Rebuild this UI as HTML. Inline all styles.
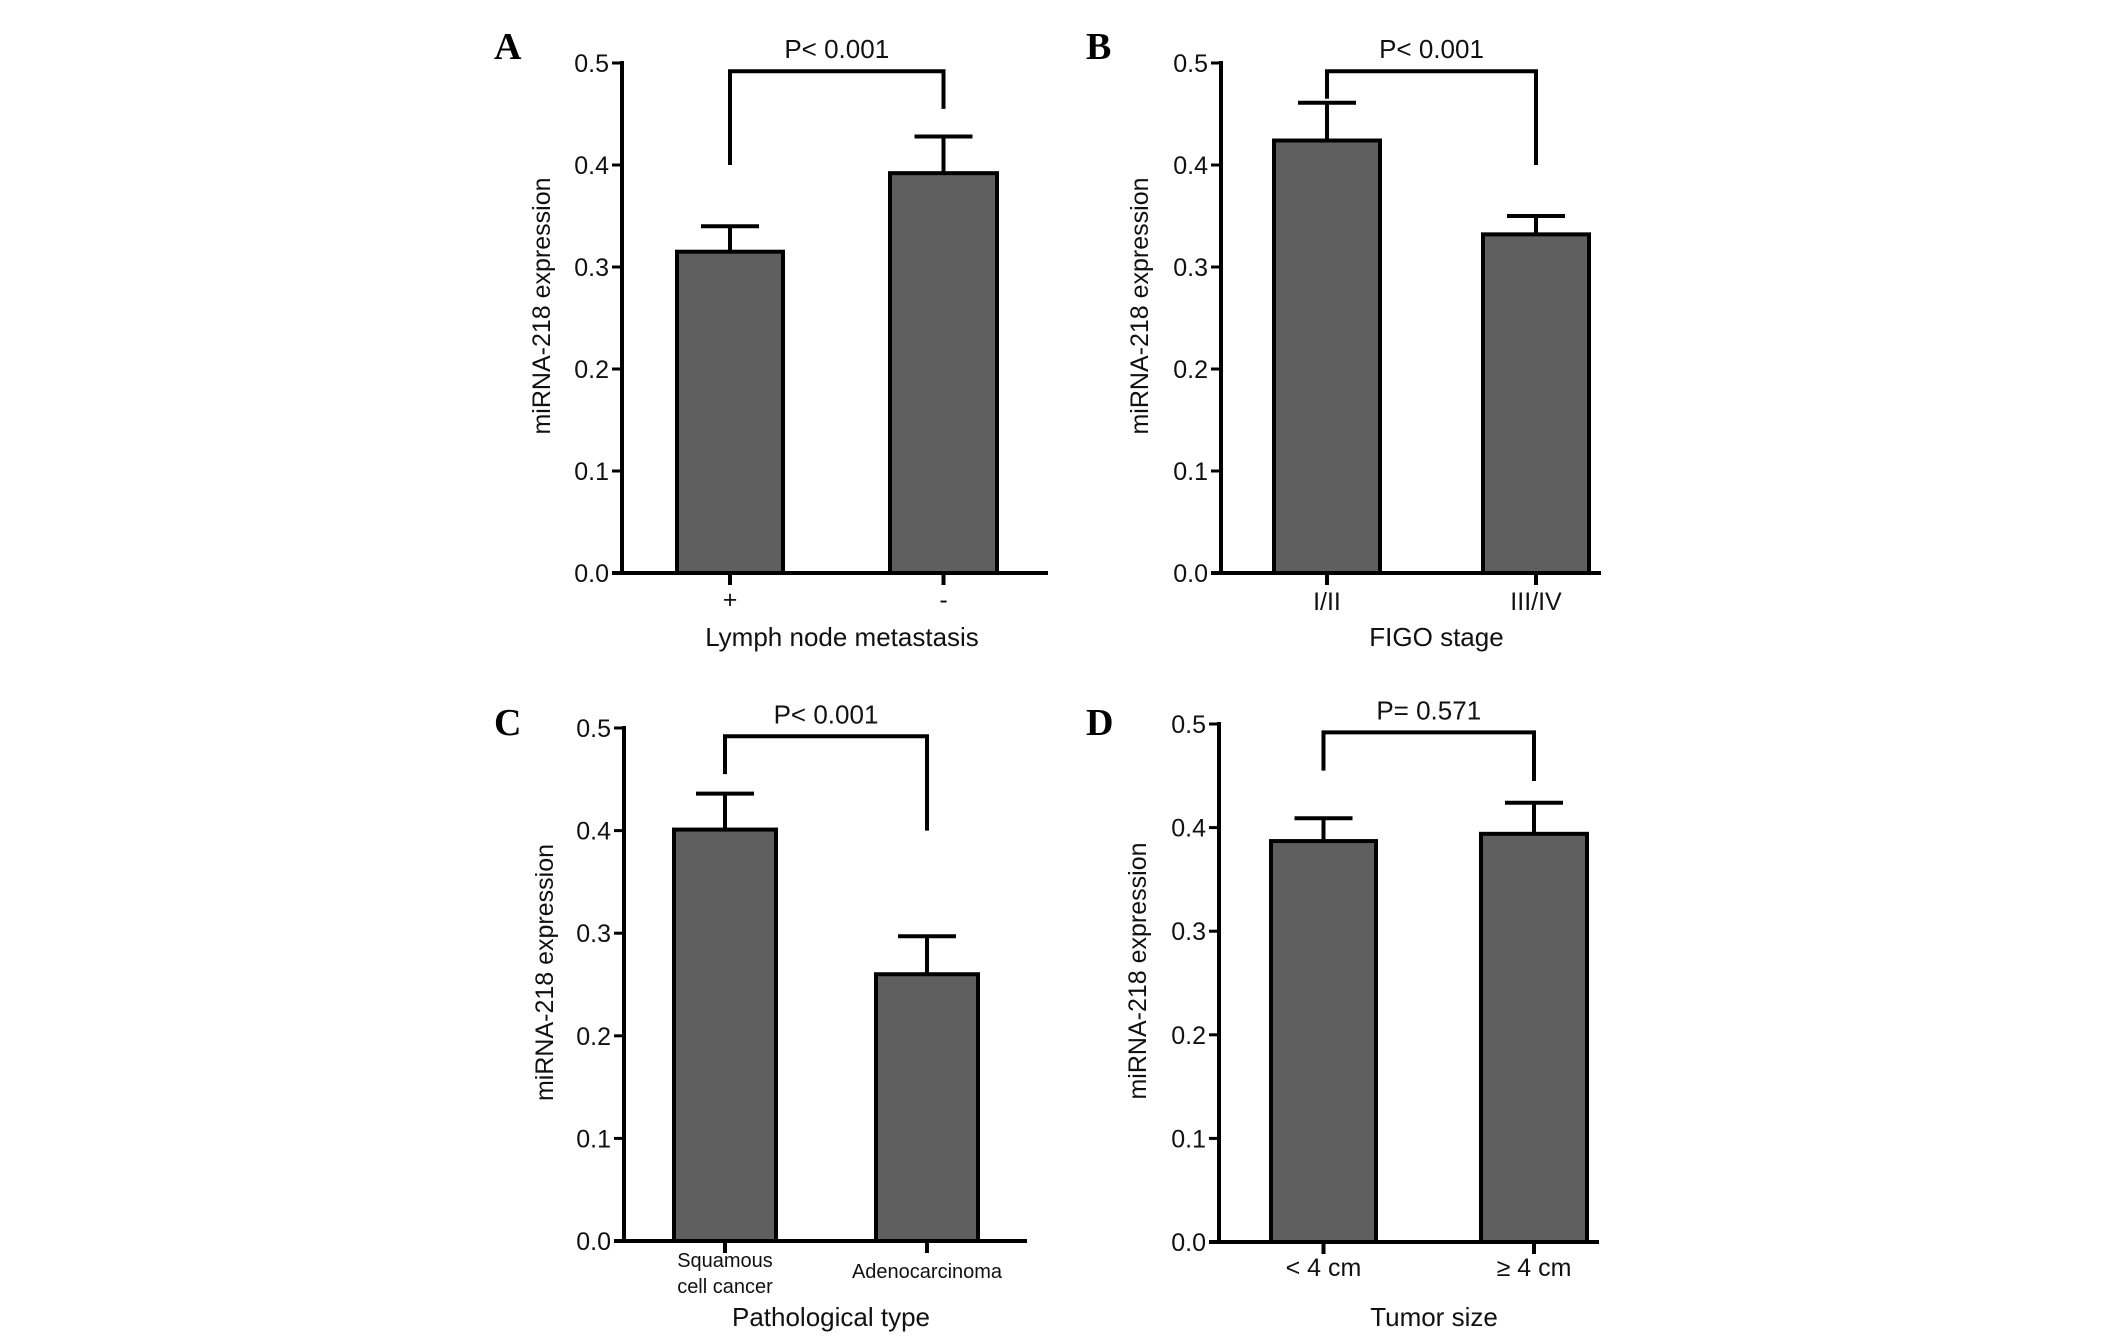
<!DOCTYPE html>
<html><head><meta charset="utf-8"><style>
html,body{margin:0;padding:0;background:#fff;}
svg{display:block;}
text{font-family:"Liberation Sans",Arial,sans-serif;fill:#111;}
text.letter{font-family:"Liberation Serif","Times New Roman",serif;font-weight:bold;fill:#000;}
</style></head><body>
<svg id="fig" width="2126" height="1336" viewBox="0 0 2126 1336" xmlns="http://www.w3.org/2000/svg"></svg>
<script>
// Data
const panelLetters = ["A","B","C","D"];
const categoriesA = ["+","-"];
const categoriesB = ["I/II","III/IV"];
const categoriesC = [["Squamous","cell cancer"],["Adenocarcinoma"]];
const categoriesD = ["< 4 cm","\u2265 4 cm"];
const meansA = [0.315, 0.392];
const errA = [0.340, 0.428];
const meansB = [0.424, 0.332];
const errB = [0.461, 0.350];
const meansC = [0.401, 0.260];
const errC = [0.436, 0.297];
const meansD = [0.387, 0.394];
const errD = [0.409, 0.424];
const pTexts = ["P< 0.001","P< 0.001","P< 0.001","P= 0.571"];
const bracketEnds = [[0.40,0.455],[0.465,0.40],[0.455,0.40],[0.455,0.445]];
const bracketTop = [0.49,0.49,0.49,0.49];
const xTitles = ["Lymph node metastasis","FIGO stage","Pathological type","Tumor size"];
const yTicks = [0,0.1,0.2,0.3,0.4,0.5];
const tickLabels = ["0.0","0.1","0.2","0.3","0.4","0.5"];

const svg = document.getElementById('fig');
const NS = "http://www.w3.org/2000/svg";
function mk(tag, attrs, parent){
  const e = document.createElementNS(NS, tag);
  for (const k in attrs) e.setAttribute(k, attrs[k]);
  (parent||svg).appendChild(e);
  return e;
}
const layouts = [
  {ax:622, y0:573, y5:63, xEnd:1048, bars:[[677,783],[890,997]], lx:494, ly:59, ylx:542, tickY:608, titleY:646},
  {ax:1221, y0:573, y5:63, xEnd:1601, bars:[[1274,1380],[1483,1589]], lx:1086, ly:59, ylx:1140, tickY:610, titleY:646},
  {ax:624, y0:1241, y5:728, xEnd:1027, bars:[[674,776],[876,978]], lx:494, ly:735, ylx:545, tickY:1278, titleY:1326},
  {ax:1219, y0:1242, y5:724, xEnd:1599, bars:[[1271,1376],[1481,1587]], lx:1086, ly:735, ylx:1138, tickY:1276, titleY:1326}
];
const allCats = [categoriesA, categoriesB, categoriesC, categoriesD];
const allMeans = [meansA, meansB, meansC, meansD];
const allErr = [errA, errB, errC, errD];

layouts.forEach((L, p) => {
  const g = mk('g', {});
  
  
  const yS = v => L.y0 - (L.y0 - L.y5) * (v / 0.5);
  const lt = mk('text', {x:L.lx, y:L.ly, 'class':'letter', 'font-size':38}, g);
  lt.textContent = panelLetters[p];
  
  
  L.bars.forEach((b, i) => {
    const cx = (b[0] + b[1]) / 2;
    const ey = yS(allErr[p][i]);
    const top = yS(allMeans[p][i]);
    const eb = mk('path', {d:`M${cx},${top} V${ey} M${cx-29},${ey} H${cx+29}`, stroke:'#000', 'stroke-width':4, fill:'none'}, g);
    
    
    const r = mk('rect', {x:b[0], y:top, width:b[1]-b[0], height:L.y0-top, fill:'#5f5f5f', stroke:'#000', 'stroke-width':4}, g);
    
    
    const xt = mk('line', {x1:cx, x2:cx, y1:L.y0, y2:L.y0+12, stroke:'#000', 'stroke-width':4}, g);
    
    
    const cat = allCats[p][i];
    if (Array.isArray(cat)) {
      const base = cat.length > 1 ? L.tickY - 11 : L.tickY;
      cat.forEach((s, k) => {
        const t = mk('text', {x:cx, y:base + k*26, 'text-anchor':'middle', 'font-size':20}, g);
        t.textContent = s;
        
        
      });
    } else {
      const t = mk('text', {x:cx, y:L.tickY, 'text-anchor':'middle', 'font-size':25}, g);
      t.textContent = cat;
      
      
    }
  });
  const ya = mk('line', {x1:L.ax, x2:L.ax, y1:L.y5-2, y2:L.y0+2, stroke:'#000', 'stroke-width':4}, g);
  
  
  const xa = mk('line', {x1:L.ax-10, x2:L.xEnd, y1:L.y0, y2:L.y0, stroke:'#000', 'stroke-width':4}, g);
  
  
  yTicks.forEach((v, i) => {
    const y = yS(v);
    const tk = mk('line', {x1:L.ax-10, x2:L.ax, y1:y, y2:y, stroke:'#000', 'stroke-width':3}, g);
    
    
    const t = mk('text', {x:L.ax-13, y:y+9, 'text-anchor':'end', 'font-size':25}, g);
    t.textContent = tickLabels[i];
    
    
  });
  const cy = (L.y0 + L.y5) / 2 - 12;
  const yt = mk('text', {x:L.ylx, y:cy, 'text-anchor':'middle', 'font-size':25, transform:`rotate(-90 ${L.ylx} ${cy}) translate(0 8)`}, g);
  yt.textContent = 'miRNA-218 expression';
  
  
  const xcx = (L.bars[0][0] + L.bars[1][1]) / 2 + 5;
  const xt = mk('text', {x:xcx, y:L.titleY, 'text-anchor':'middle', 'font-size':26}, g);
  xt.textContent = xTitles[p];
  
  
  const c1 = (L.bars[0][0] + L.bars[0][1]) / 2, c2 = (L.bars[1][0] + L.bars[1][1]) / 2;
  const bt = yS(bracketTop[p]) - 2;
  const br = mk('path', {d:`M${c1},${yS(bracketEnds[p][0])} V${bt} H${c2} V${yS(bracketEnds[p][1])}`, stroke:'#000', 'stroke-width':4, fill:'none'}, g);
  
  
  const pt = mk('text', {x:(c1+c2)/2, y:bt-13, 'text-anchor':'middle', 'font-size':26}, g);
  pt.textContent = pTexts[p];
  
  
});
</script>
</body></html>
